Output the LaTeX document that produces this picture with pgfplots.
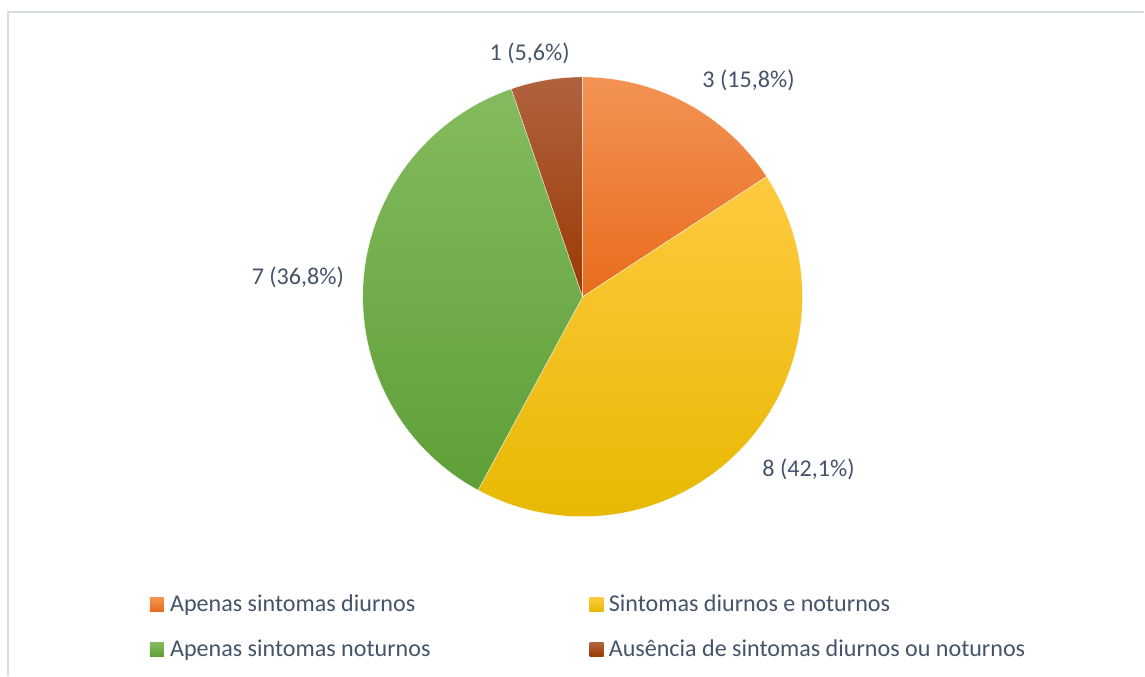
\documentclass[border=0pt]{standalone}
\usepackage{pgfplots}
\pgfplotsset{compat=1.18}
\usepackage{pgfplotstable}
\usepackage{fontspec}
\setmainfont{Carlito}
\definecolor{txt}{HTML}{44546A}
\definecolor{frame}{HTML}{D9DEE4}
% orange
\definecolor{oT}{HTML}{F39355}\definecolor{oM}{HTML}{ED7D31}\definecolor{oB}{HTML}{E86C1C}
% yellow
\definecolor{yT}{HTML}{FFCA40}\definecolor{yM}{HTML}{FFC000}\definecolor{yB}{HTML}{E6B800}
% green
\definecolor{gT}{HTML}{84BB5E}\definecolor{gM}{HTML}{70AD47}\definecolor{gB}{HTML}{5E9F37}
% brown
\definecolor{bT}{HTML}{B0623F}\definecolor{bM}{HTML}{A24A1A}\definecolor{bB}{HTML}{9A3A02}

\pgfplotstableread{
cat value
1 3
2 8
3 7
4 1
}\piedata

\pgfplotstablegetelem{0}{value}\of\piedata \let\vA\pgfplotsretval
\pgfplotstablegetelem{1}{value}\of\piedata \let\vB\pgfplotsretval
\pgfplotstablegetelem{2}{value}\of\piedata \let\vC\pgfplotsretval
\pgfplotstablegetelem{3}{value}\of\piedata \let\vD\pgfplotsretval
\pgfmathsetmacro{\tot}{\vA+\vB+\vC+\vD}
\pgfmathsetmacro{\aA}{90}
\pgfmathsetmacro{\aB}{\aA-360*\vA/\tot}
\pgfmathsetmacro{\aC}{\aB-360*\vB/\tot}
\pgfmathsetmacro{\aD}{\aC-360*\vC/\tot}
\pgfmathsetmacro{\aE}{\aD-360*\vD/\tot}
\def\cx{583}\def\cy{379}\def\rr{220}
\pgfmathsetmacro{\xA}{\cx+\rr*cos(\aA)}\pgfmathsetmacro{\yA}{\cy+\rr*sin(\aA)}
\pgfmathsetmacro{\xB}{\cx+\rr*cos(\aB)}\pgfmathsetmacro{\yB}{\cy+\rr*sin(\aB)}
\pgfmathsetmacro{\xC}{\cx+\rr*cos(\aC)}\pgfmathsetmacro{\yC}{\cy+\rr*sin(\aC)}
\pgfmathsetmacro{\xD}{\cx+\rr*cos(\aD)}\pgfmathsetmacro{\yD}{\cy+\rr*sin(\aD)}

\begin{document}
\begin{tikzpicture}
\begin{axis}[
  scale only axis, width=1145pt, height=676pt,
  xmin=0, xmax=1145, ymin=0, ymax=676,
  hide axis, clip=false,
]
\path (axis cs:0,0) rectangle (axis cs:1145,676);
\draw[frame, line width=1.5pt] (axis cs:8,0) -- (axis cs:8,664) -- (axis cs:1145,664);
% slices
\shadedraw[draw=white, line width=0.3pt, top color=oT, middle color=oM, bottom color=oB]
  (axis cs:\cx,\cy) -- (axis cs:\xA,\yA) arc[start angle=\aA, end angle=\aB, radius=\rr] -- cycle;
\shadedraw[draw=white, line width=0.3pt, top color=yT, middle color=yM, bottom color=yB]
  (axis cs:\cx,\cy) -- (axis cs:\xB,\yB) arc[start angle=\aB, end angle=\aC, radius=\rr] -- cycle;
\shadedraw[draw=white, line width=0.3pt, top color=gT, middle color=gM, bottom color=gB]
  (axis cs:\cx,\cy) -- (axis cs:\xC,\yC) arc[start angle=\aC, end angle=\aD, radius=\rr] -- cycle;
\shadedraw[draw=white, line width=0.3pt, top color=bT, middle color=bM, bottom color=bB]
  (axis cs:\cx,\cy) -- (axis cs:\xD,\yD) arc[start angle=\aD, end angle=\aE, radius=\rr] -- cycle;
% data labels
\begin{scope}[every node/.style={text=txt, font=\fontsize{24.1}{28}\selectfont, inner sep=0pt}]
\node at (axis cs:749,596) {3 (15,8\%)};
\node at (axis cs:809,206) {8 (42,1\%)};
\node at (axis cs:298,398) {7 (36,8\%)};
\node at (axis cs:530,623) {1 (5,6\%)};
% legend
\shade[top color=oT, bottom color=oB] (axis cs:150,64) rectangle (axis cs:164,78);
\node[anchor=base west] at (axis cs:170,64) {Apenas sintomas diurnos};
\shade[top color=gT, bottom color=gB] (axis cs:150,19) rectangle (axis cs:164,33);
\node[anchor=base west] at (axis cs:170,19) {Apenas sintomas noturnos};
\shade[top color=yT, bottom color=yB] (axis cs:590,64) rectangle (axis cs:604,78);
\node[anchor=base west] at (axis cs:609,64) {Sintomas diurnos e noturnos};
\shade[top color=bT, bottom color=bB] (axis cs:590,19) rectangle (axis cs:604,33);
\node[anchor=base west] at (axis cs:609,19) {Ausência de sintomas diurnos ou noturnos};
\end{scope}
\end{axis}
\end{tikzpicture}
\end{document}
